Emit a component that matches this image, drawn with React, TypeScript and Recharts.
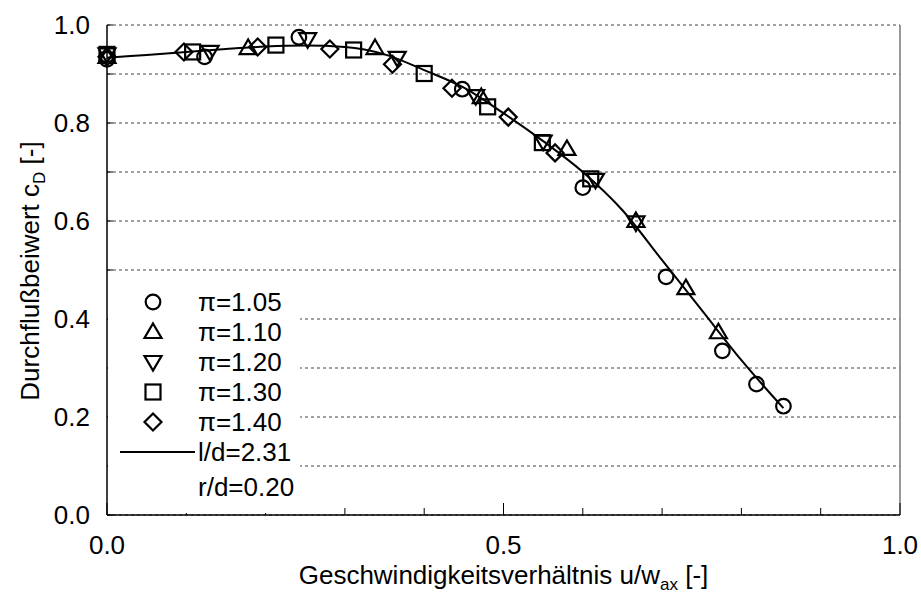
import React from 'react';
import { ScatterChart, Scatter, XAxis, YAxis, CartesianGrid, ReferenceLine, Legend } from 'recharts';

// axis ticks (labels only on the major ones)
const xTicks = [0, 0.1, 0.2, 0.3, 0.4, 0.5, 0.6, 0.7, 0.8, 0.9, 1.0];
const yTicks = [0, 0.1, 0.2, 0.3, 0.4, 0.5, 0.6, 0.7, 0.8, 0.9, 1.0];
const xLabelTicks = [0, 0.5, 1.0];
const yLabelTicks = [0, 0.2, 0.4, 0.6, 0.8, 1.0];

// measured points, one array per pressure ratio
const pi105 = [
  { x: 0, y: 0.93 }, { x: 0.123, y: 0.935 }, { x: 0.242, y: 0.975 }, { x: 0.448, y: 0.869 },
  { x: 0.6, y: 0.668 }, { x: 0.705, y: 0.486 }, { x: 0.776, y: 0.335 }, { x: 0.819, y: 0.267 },
  { x: 0.853, y: 0.222 },
];
const pi110 = [
  { x: 0, y: 0.935 }, { x: 0.178, y: 0.953 }, { x: 0.338, y: 0.953 }, { x: 0.472, y: 0.853 },
  { x: 0.58, y: 0.747 }, { x: 0.667, y: 0.6 }, { x: 0.73, y: 0.463 }, { x: 0.771, y: 0.373 },
];
const pi120 = [
  { x: 0, y: 0.94 }, { x: 0.13, y: 0.945 }, { x: 0.253, y: 0.971 }, { x: 0.366, y: 0.933 },
  { x: 0.465, y: 0.855 }, { x: 0.55, y: 0.762 }, { x: 0.616, y: 0.684 }, { x: 0.667, y: 0.597 },
];
const pi130 = [
  { x: 0, y: 0.94 }, { x: 0.108, y: 0.945 }, { x: 0.213, y: 0.959 }, { x: 0.311, y: 0.949 },
  { x: 0.4, y: 0.901 }, { x: 0.48, y: 0.833 }, { x: 0.549, y: 0.76 }, { x: 0.61, y: 0.686 },
];
const pi140 = [
  { x: 0, y: 0.935 }, { x: 0.097, y: 0.945 }, { x: 0.19, y: 0.955 }, { x: 0.281, y: 0.951 },
  { x: 0.36, y: 0.92 }, { x: 0.435, y: 0.871 }, { x: 0.506, y: 0.812 }, { x: 0.565, y: 0.739 },
];

// fitted curve l/d=2.31
const curve = [
  { x: 0, y: 0.933 }, { x: 0.05, y: 0.939 }, { x: 0.1, y: 0.945 }, { x: 0.15, y: 0.951 },
  { x: 0.2, y: 0.956 }, { x: 0.25, y: 0.958 }, { x: 0.3, y: 0.955 }, { x: 0.35, y: 0.94 },
  { x: 0.4, y: 0.908 }, { x: 0.45, y: 0.872 }, { x: 0.5, y: 0.82 }, { x: 0.55, y: 0.763 },
  { x: 0.6, y: 0.7 }, { x: 0.65, y: 0.622 }, { x: 0.7, y: 0.52 }, { x: 0.75, y: 0.418 },
  { x: 0.8, y: 0.316 }, { x: 0.853, y: 0.218 },
];

const series = [
  { name: 'π=1.05', kind: 'circle', data: pi105 },
  { name: 'π=1.10', kind: 'up', data: pi110 },
  { name: 'π=1.20', kind: 'down', data: pi120 },
  { name: 'π=1.30', kind: 'square', data: pi130 },
  { name: 'π=1.40', kind: 'diamond', data: pi140 },
];

const FONT = "'Liberation Sans', Arial, sans-serif";
const FS = 26;

const Marker = ({ kind, cx, cy }: { kind: string; cx: number; cy: number }) => {
  const common = { fill: 'none', stroke: '#000', strokeWidth: 2.2 };
  if (kind === 'circle') return <circle cx={cx} cy={cy} r={7.3} {...common} />;
  if (kind === 'square') return <rect x={cx - 7.5} y={cy - 7.5} width={15} height={15} {...common} />;
  if (kind === 'up')
    return <polygon points={`${cx},${cy - 8.5} ${cx + 8.5},${cy + 6} ${cx - 8.5},${cy + 6}`} {...common} />;
  if (kind === 'down')
    return <polygon points={`${cx - 8.5},${cy - 6} ${cx + 8.5},${cy - 6} ${cx},${cy + 8.5}`} {...common} />;
  return <polygon points={`${cx},${cy - 8.5} ${cx + 8.5},${cy} ${cx},${cy + 8.5} ${cx - 8.5},${cy}`} {...common} />;
};

const XTick = (props: any) => {
  const { x, y, payload } = props;
  const v = payload.value;
  const major = xLabelTicks.some((t) => Math.abs(t - v) < 1e-6);
  const axisY = y - 30;
  return (
    <g>
      <line x1={x} x2={x} y1={axisY} y2={axisY - (major ? 12 : 7)} stroke="#000" strokeWidth={1} />
      {major && (
        <text x={x} y={y} dy={FS * 0.36} textAnchor="middle" fontSize={FS} fontFamily={FONT} fill="#000">
          {v.toFixed(1)}
        </text>
      )}
    </g>
  );
};

const YTick = (props: any) => {
  const { x, y, payload } = props;
  const v = payload.value;
  const major = yLabelTicks.some((t) => Math.abs(t - v) < 1e-6);
  const axisX = x + 17;
  return (
    <g>
      <line x1={axisX} x2={axisX + 6} y1={y} y2={y} stroke="#000" strokeWidth={1} />
      {major && (
        <text x={x} y={y} dy={FS * 0.36} textAnchor="end" fontSize={FS} fontFamily={FONT} fill="#000">
          {v.toFixed(1)}
        </text>
      )}
    </g>
  );
};

const XTitle = (props: any) => {
  const vb = props.viewBox;
  const cx = vb.x + vb.width / 2;
  return (
    <text x={cx} y={584} textAnchor="middle" fontSize={FS} fontFamily={FONT} fill="#000">
      Geschwindigkeitsverhältnis u/w
      <tspan dy={6} fontSize={17}>ax</tspan>
      <tspan dy={-6}> [-]</tspan>
    </text>
  );
};

const YTitle = () => {
  const cy = 271;
  return (
    <text
      x={30}
      y={cy}
      dy={FS * 0.36}
      transform={`rotate(-90, 30, ${cy})`}
      textAnchor="middle"
      fontSize={FS}
      fontFamily={FONT}
      fill="#000"
    >
      Durchflußbeiwert c
      <tspan dy={6} fontSize={17}>D</tspan>
      <tspan dy={-6}> [-]</tspan>
    </text>
  );
};

const LegendBox = () => {
  const row: React.CSSProperties = { height: 30, display: 'flex', alignItems: 'center', position: 'relative' };
  const text: React.CSSProperties = { position: 'absolute', left: 90, fontSize: FS, lineHeight: '30px' };
  return (
    <div
      style={{
        width: 192,
        height: 228,
        background: '#fff',
        fontFamily: FONT,
        color: '#000',
        paddingTop: 2,
        boxSizing: 'border-box',
      }}
    >
      {series.map((s) => (
        <div key={s.name} style={row}>
          <svg width={40} height={30} style={{ position: 'absolute', left: 25, top: 0 }}>
            <Marker kind={s.kind} cx={20} cy={15} />
          </svg>
          <span style={text}>{s.name}</span>
        </div>
      ))}
      <div style={row}>
        <svg width={80} height={30} style={{ position: 'absolute', left: 10, top: 0 }}>
          <line x1={2} x2={77} y1={15} y2={15} stroke="#000" strokeWidth={2} />
        </svg>
        <span style={text}>l/d=2.31</span>
      </div>
      <div style={{ ...row, marginTop: 5 }}>
        <span style={text}>r/d=0.20</span>
      </div>
    </div>
  );
};

export default function App() {
  return (
    <div style={{ position: 'absolute', left: 0, top: 0, background: '#fff' }}>
      <ScatterChart width={921} height={594} margin={{ top: 25, right: 21, bottom: 0, left: 0 }}>
        <CartesianGrid vertical={false} stroke="#444" strokeDasharray="3 3" />
        <XAxis
          type="number"
          dataKey="x"
          domain={[0, 1]}
          ticks={xTicks}
          interval={0}
          height={79}
          tickSize={0}
          tickMargin={30}
          tick={<XTick />}
          axisLine={{ stroke: '#000', strokeWidth: 1.5 }}
          label={<XTitle />}
        />
        <YAxis
          type="number"
          dataKey="y"
          domain={[0, 1]}
          ticks={yTicks}
          interval={0}
          width={107}
          tickSize={0}
          tickMargin={17}
          tick={<YTick />}
          axisLine={{ stroke: '#000', strokeWidth: 1.5 }}
          label={<YTitle />}
        />
        <ReferenceLine x={1} stroke="#777" strokeWidth={1.5} />
        <Scatter
          name="l/d=2.31"
          data={curve}
          line={{ stroke: '#000', strokeWidth: 2 }}
          lineJointType="monotoneX"
          shape={() => <g />}
          legendType="none"
          isAnimationActive={false}
        />
        {series.map((s) => (
          <Scatter
            key={s.name}
            name={s.name}
            data={s.data}
            isAnimationActive={false}
            shape={(p: any) => <Marker kind={s.kind} cx={p.cx} cy={p.cy} />}
          />
        ))}
        <Legend
          layout="vertical"
          align="center"
          verticalAlign="middle"
          content={<LegendBox />}
          wrapperStyle={{ left: 108, top: 285, width: 192 }}
        />
      </ScatterChart>
    </div>
  );
}
